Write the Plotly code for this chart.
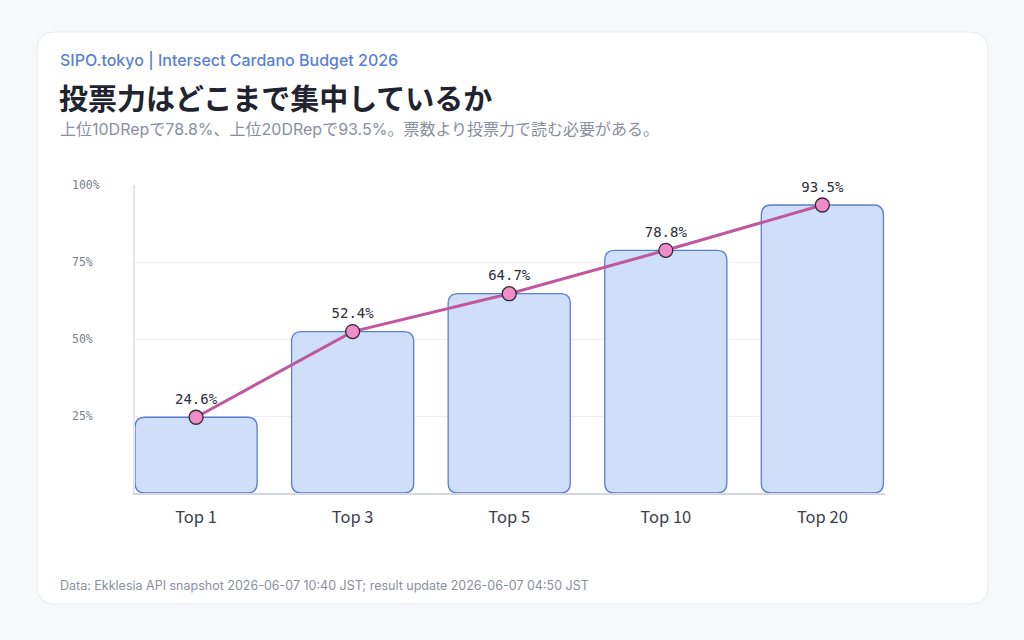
import plotly.graph_objects as go

categories = ["Top 1", "Top 3", "Top 5", "Top 10", "Top 20"]
share_pct = [24.6, 52.4, 64.7, 78.8, 93.5]
y_ticks = [25, 50, 75, 100]
y_tick_labels = ["25%", "50%", "75%", "100%"]

W, H = 1024, 640
PX_L, PX_R, PX_T, PX_B = 135, 885, 185, 493
X_RANGE = [-0.39, 4.40]
Y_RANGE = [0, 100]

def px(x):
    return x / W

def py(y):
    return 1 - y / H

fig = go.Figure()

# rounded bars drawn as shapes in data coordinates
xs = list(range(len(categories)))
half_w = 0.39
ux = (PX_R - PX_L) / (X_RANGE[1] - X_RANGE[0])  # px per x unit
uy = (PX_B - PX_T) / (Y_RANGE[1] - Y_RANGE[0])  # px per y unit
r_px = 10
rx, ry = r_px / ux, r_px / uy
shapes = []
for x, v in zip(xs, share_pct):
    x0, x1 = x - half_w, x + half_w
    path = (f"M {x0+rx},0 L {x1-rx},0 Q {x1},0 {x1},{ry} "
            f"L {x1},{v-ry} Q {x1},{v} {x1-rx},{v} "
            f"L {x0+rx},{v} Q {x0},{v} {x0},{v-ry} "
            f"L {x0},{ry} Q {x0},0 {x0+rx},0 Z")
    shapes.append(dict(type="path", xref="x", yref="y", path=path,
                       fillcolor="#cfdffa", line=dict(color="#5b7fcf", width=1.3),
                       layer="between"))

# card background
cx0, cx1, cy0, cy1, cr = 37, 988, 32, 604, 18
card = (f"M {px(cx0+cr)},{py(cy0)} L {px(cx1-cr)},{py(cy0)} Q {px(cx1)},{py(cy0)} {px(cx1)},{py(cy0+cr)} "
        f"L {px(cx1)},{py(cy1-cr)} Q {px(cx1)},{py(cy1)} {px(cx1-cr)},{py(cy1)} "
        f"L {px(cx0+cr)},{py(cy1)} Q {px(cx0)},{py(cy1)} {px(cx0)},{py(cy1-cr)} "
        f"L {px(cx0)},{py(cy0+cr)} Q {px(cx0)},{py(cy0)} {px(cx0+cr)},{py(cy0)} Z")
shapes.insert(0, dict(type="path", xref="paper", yref="paper", path=card,
                      fillcolor="#ffffff", line=dict(color="#e7e9ef", width=1), layer="below"))

fig.add_trace(go.Scatter(
    x=xs, y=share_pct, mode="lines+markers+text",
    text=[f"{v:.1f}%" for v in share_pct], textposition="top center",
    textfont=dict(family="DejaVu Sans Mono", size=14, color="#2a2e38"),
    line=dict(color="#c0579f", width=3),
    marker=dict(size=14, color="#f08cc8", line=dict(color="#2b2b35", width=1.3)),
    cliponaxis=False, showlegend=False, hoverinfo="skip"))

annotations = []
for t, lab in zip(y_ticks, y_tick_labels):
    annotations.append(dict(x=px(70), xref="paper", y=t, yref="y", text=lab,
                            xanchor="left", yanchor="middle", showarrow=False,
                            font=dict(family="DejaVu Sans Mono", size=11.5, color="#7a7f8c")))

def txt(x, y, s, size, color, family="Inter, Noto Sans CJK JP", weight=None):
    f = dict(family=family, size=size, color=color)
    if weight:
        f["weight"] = weight
    annotations.append(dict(x=px(x), y=py(y), xref="paper", yref="paper", text=s,
                            xanchor="left", yanchor="middle", showarrow=False, font=f))

txt(58, 60, "SIPO.tokyo | Intersect Cardano Budget 2026", 16, "#5a7fd3", weight=500)
txt(57, 97, "投票力はどこまで集中しているか", 29, "#1f2430", family="Noto Sans CJK JP", weight=700)
txt(58, 129, "上位10DRepで78.8%、上位20DRepで93.5%。票数より投票力で読む必要がある。", 16, "#8a8f9c")
txt(58, 585, "Data: Ekklesia API snapshot 2026-06-07 10:40 JST; result update 2026-06-07 04:50 JST", 12.5, "#8a8f9c")

fig.update_layout(
    width=W, height=H, margin=dict(l=0, r=0, t=0, b=0),
    paper_bgcolor="#f7f8fa", plot_bgcolor="rgba(0,0,0,0)",
    shapes=shapes, annotations=annotations, showlegend=False,
    xaxis=dict(domain=[px(PX_L), px(PX_R)], range=X_RANGE, tickvals=xs, ticktext=categories,
               showgrid=False, zeroline=False, showline=True, linecolor="#d3d7e0", linewidth=1.5,
               ticks="", tickfont=dict(family="Noto Sans CJK JP, Inter", size=16.5, color="#3b404c"),
               ticklabelstandoff=8),
    yaxis=dict(domain=[py(PX_B), py(PX_T)], range=Y_RANGE, tickvals=y_ticks, showticklabels=False,
               showgrid=True, gridcolor="#eef0f4", gridwidth=1, zeroline=False,
               showline=True, linecolor="#e2e5ec", linewidth=1.5, ticks=""),
)

fig.write_html("out.html")
